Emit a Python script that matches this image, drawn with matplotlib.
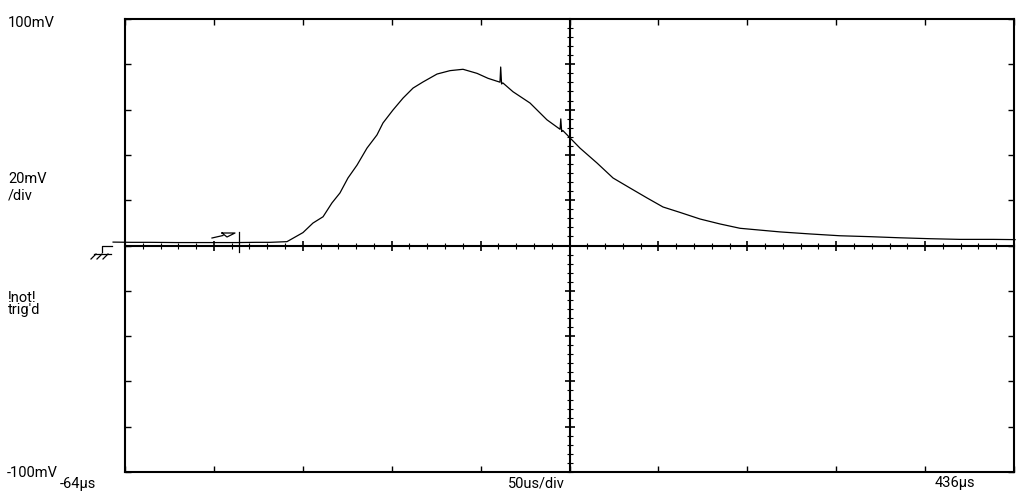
import numpy as np
import matplotlib
matplotlib.use("Agg")
import matplotlib.pyplot as plt
from matplotlib.lines import Line2D

# ---- data (time in microseconds, signal in millivolts) ----
t_us = [-70.7, -60.0, -49.9, -35.0, -21.8, -10.0, -1.0, 10.0, 17.6, 27.1,
        36.1, 41.7, 47.4, 52.4, 56.9, 61.4, 66.5, 72.1, 77.7, 81.1,
        86.7, 92.4, 98.0, 103.6, 111.5, 118.8, 126.1, 134.0, 140.2, 146.9,
        147.3, 147.8, 148.5, 154.2, 163.8, 173.3, 180.7, 181.1, 181.6, 182.2,
        186.3, 191.9, 201.5, 210.5, 220.0, 229.6, 238.6, 248.2, 259.4, 270.7,
        281.9, 293.1, 304.4, 321.3, 338.1, 355.0, 371.9, 388.8, 405.6, 424.2,
        436.6]
v_mv = [1.5, 1.4, 1.4, 1.3, 1.3, 1.3, 1.3, 1.4, 1.4, 1.7,
        5.7, 9.9, 12.7, 18.8, 23.2, 29.8, 35.5, 43.0, 48.8, 54.1,
        59.8, 65.1, 69.5, 72.2, 75.7, 77.2, 77.8, 76.0, 73.8, 72.1,
        78.8, 71.3, 71.8, 67.9, 62.9, 55.5, 51.3, 55.9, 50.3, 50.8,
        47.5, 43.0, 36.4, 29.8, 25.4, 21.0, 17.0, 14.6, 11.7, 9.5,
        7.6, 6.8, 6.0, 5.1, 4.3, 3.9, 3.4, 3.0, 2.7, 2.7,
        2.6]

t_start, t_end = -64, 436
v_min, v_max = -100, 100
us_per_div = 50
mv_per_div = 20
trigger_t = 0
center_t = (t_start + t_end) / 2

FONT = ["Roboto", "DejaVu Sans"]
plt.rcParams["font.family"] = FONT

W, H = 1026, 493
fig = plt.figure(figsize=(W / 100, H / 100), dpi=100)
L, T, R, B = 125, 19, 1014, 472
rect = [L / W, 1 - B / H, (R - L) / W, (B - T) / H]

# outer graticule box
ax = fig.add_axes(rect)
ax.set_xlim(t_start, t_end)
ax.set_ylim(v_min, v_max)
ax.set_xticks(np.arange(t_start, t_end + 1, us_per_div))
ax.set_yticks(np.arange(v_min, v_max + 1, mv_per_div))
ax.tick_params(which="major", direction="in", length=4, width=1.0,
               top=True, right=True, labelbottom=False, labelleft=False,
               color="black")
for s in ax.spines.values():
    s.set_linewidth(1.5)
    s.set_color("black")

# centre cross with fine ticks
ax2 = fig.add_axes(rect)
ax2.set_xlim(t_start, t_end)
ax2.set_ylim(v_min, v_max)
ax2.patch.set_visible(False)
ax2.spines["top"].set_visible(False)
ax2.spines["right"].set_visible(False)
ax2.spines["left"].set_position(("data", center_t))
ax2.spines["bottom"].set_position(("data", 0))
for k in ("left", "bottom"):
    ax2.spines[k].set_linewidth(1.5)
ax2.set_xticks(np.arange(t_start + us_per_div, t_end, us_per_div))
ax2.set_xticks(np.arange(t_start, t_end + 1, us_per_div / 5), minor=True)
ax2.set_yticks(np.arange(v_min + mv_per_div, v_max, mv_per_div))
ax2.set_yticks(np.arange(v_min, v_max + 1, mv_per_div / 5), minor=True)
ax2.tick_params(which="major", direction="inout", length=7.7, width=1.2,
                labelbottom=False, labelleft=False)
ax2.tick_params(which="minor", direction="inout", length=3.8, width=0.8)

# trace
ax2.plot(t_us, v_mv, color="black", lw=0.9, clip_on=False, zorder=5)

# trigger marker at t=0
ax2.plot([trigger_t, trigger_t], [6.0, -2.7], color="black", lw=0.9, zorder=5)


def seg(pts, lw=0.9):
    xs = [p[0] / W for p in pts]
    ys = [1 - p[1] / H for p in pts]
    fig.add_artist(Line2D(xs, ys, color="black", lw=lw, transform=fig.transFigure))

# trigger arrow
seg([(212, 238), (223, 235.5)])
seg([(222, 233), (235, 233), (227, 237), (222, 233)])
# ground symbol
seg([(102, 251.7), (102, 246), (112, 246)])
seg([(94, 254), (111, 254)])
seg([(96, 254), (91, 259)])
seg([(102, 254), (97, 259)])
seg([(108, 254), (103, 259)])

fs = 10.5
def lab(x, y, s):
    fig.text(x / W, 1 - y / H, s, ha="left", va="baseline", fontsize=fs,
             family=FONT, color="black")

lab(8, 27, "100mV")
lab(8, 183, "20mV")
lab(8, 199, "/div")
lab(8, 302, "!not!")
lab(8, 314, "trig'd")
lab(7, 477, "-100mV")
lab(60, 488, "-64µs")
lab(508, 488, "50us/div")
lab(935, 487, "436µs")

fig.savefig("out.png", dpi=100)
